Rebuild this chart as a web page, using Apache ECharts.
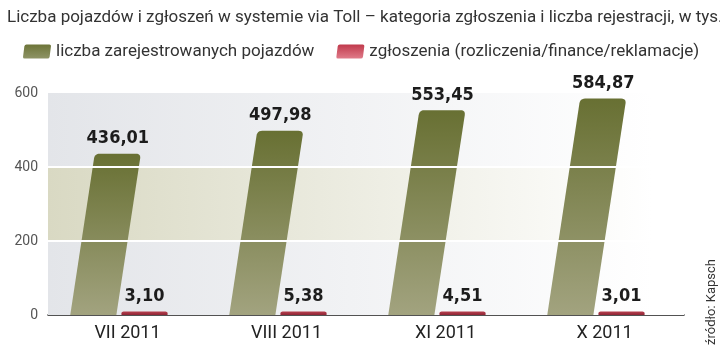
<!DOCTYPE html>
<html>
<head>
<meta charset="utf-8">
<script src="https://cdn.jsdelivr.net/npm/echarts@6/dist/echarts.min.js"></script>
<style>html,body{margin:0;padding:0;background:#fff;}#c{width:720px;height:350px;}</style>
</head>
<body>
<div id="c"></div>
<script>
const categories = ['VII 2011', 'VIII 2011', 'XI 2011', 'X 2011'];
const vehicles = [436.01, 497.98, 553.45, 584.87];
const complaints = [3.10, 5.38, 4.51, 3.01];
const yTicks = [0, 200, 400, 600];
const seriesNames = ['liczba zarejestrowanych pojazdów', 'zgłoszenia (rozliczenia/finance/reklamacje)'];

const greenFill = {type: 'linear', x: 0, y: 0, x2: 0, y2: 1, colorStops: [
  {offset: 0, color: '#687033'}, {offset: 1, color: '#a2a37f'}]};
const redFill = {type: 'linear', x: 0, y: 0, x2: 0, y2: 1, colorStops: [
  {offset: 0, color: '#b8404f'}, {offset: 1, color: '#8e2535'}]};
const legendGreen = {type: 'linear', x: 0, y: 0, x2: 0, y2: 1, colorStops: [
  {offset: 0, color: '#6c7438'}, {offset: 1, color: '#8f9466'}]};
const legendRed = {type: 'linear', x: 0, y: 0, x2: 0, y2: 1, colorStops: [
  {offset: 0, color: '#c0394b'}, {offset: 1, color: '#e07c8a'}]};

function fmt(v) { return v.toFixed(2).replace('.', ','); }

function toward(a, b, d) {
  const dx = b[0] - a[0], dy = b[1] - a[1];
  const L = Math.sqrt(dx * dx + dy * dy) || 1;
  const t = Math.min(d / L, 0.5);
  return [a[0] + dx * t, a[1] + dy * t];
}
function corner(prev, c, next, r) {
  const p1 = toward(c, prev, r), p2 = toward(c, next, r);
  const pts = [];
  const n = 6;
  for (let k = 0; k <= n; k++) {
    const t = k / n, u = 1 - t;
    pts.push([u * u * p1[0] + 2 * u * t * c[0] + t * t * p2[0],
              u * u * p1[1] + 2 * u * t * c[1] + t * t * p2[1]]);
  }
  return pts;
}
function barPoints(xl, yBase, w, yTop, slant, r) {
  const h = yBase - yTop;
  const bl = [xl, yBase], br = [xl + w, yBase];
  const tr = [xl + w + slant * h, yTop], tl = [xl + slant * h, yTop];
  return [bl, br].concat(corner(br, tr, tl, r), corner(tr, tl, bl, r));
}

function makeRender(offsetFrac, slant, radius, fill, minH) {
  return function (params, api) {
    const i = api.value(0), v = api.value(1);
    const base = api.coord([i, 0]);
    const top = api.coord([i, v]);
    const bw = api.size([1, 0])[0];
    const w = bw * 0.29;
    const xl = base[0] + bw * offsetFrac;
    let yTop = top[1];
    if (base[1] - yTop < minH) yTop = base[1] - minH;
    const h = base[1] - yTop;
    const pts = barPoints(xl, base[1], w, yTop, slant, radius);
    return {
      type: 'group',
      children: [
        {type: 'polygon', shape: {points: pts}, style: {fill: fill}},
        {type: 'text', style: {
          text: fmt(v), x: xl + w / 2 + slant * h, y: yTop - 6,
          align: 'center', verticalAlign: 'bottom',
          fontFamily: '"DejaVu Sans Condensed", "DejaVu Sans", sans-serif',
          fontWeight: 'bold', fontSize: 18, fill: '#1c1c1c'}}
      ]
    };
  };
}

const chart = echarts.init(document.getElementById('c'), null, {renderer: 'canvas'});
const grayGrad = {type: 'linear', x: 0, y: 0, x2: 1, y2: 0, colorStops: [
  {offset: 0, color: '#e3e5e9'}, {offset: 0.95, color: '#ffffff'}]};
const beigeGrad = {type: 'linear', x: 0, y: 0, x2: 1, y2: 0, colorStops: [
  {offset: 0, color: '#d9d9c3'}, {offset: 0.95, color: '#ffffff'}]};
const iconPath = 'path://M4,0 L28,0 Q30,0 29.7,2 L28.3,13 Q28,15 26,15 L2,15 Q0,15 0.3,13 L1.7,2 Q2,0 4,0 Z';

chart.setOption({
  animation: false,
  title: {
    text: 'Liczba pojazdów i zgłoszeń w systemie via Toll – kategoria zgłoszenia i liczba rejestracji, w tys.',
    left: 2, top: 4,
    textStyle: {fontFamily: 'Roboto, sans-serif', fontWeight: 'normal', fontSize: 17, color: '#333'}
  },
  legend: {
    left: 18, top: 38, width: 700, itemWidth: 28, itemHeight: 15, itemGap: 22,
    textStyle: {fontFamily: 'Roboto, sans-serif', fontSize: 17, color: '#333'},
    data: [
      {name: seriesNames[0], icon: iconPath, itemStyle: {color: legendGreen}},
      {name: seriesNames[1], icon: iconPath, itemStyle: {color: legendRed}}
    ]
  },
  grid: {left: 48, right: 36, top: 93, bottom: 35},
  xAxis: {
    type: 'category', data: categories,
    axisLine: {lineStyle: {color: '#1a1a1a', width: 1.5}},
    axisTick: {show: false},
    axisLabel: {fontFamily: 'Roboto, sans-serif', fontSize: 18, color: '#222', margin: 9}
  },
  yAxis: {
    type: 'value', min: yTicks[0], max: yTicks[yTicks.length - 1], interval: 200,
    axisLine: {show: false}, axisTick: {show: false}, splitLine: {show: false},
    axisLabel: {fontFamily: 'Roboto, sans-serif', fontSize: 14, color: '#555', margin: 10}
  },
  graphic: [{
    type: 'text', x: 712, y: 302, rotation: Math.PI / 2,
    style: {text: 'źródło: Kapsch', align: 'center', verticalAlign: 'middle',
      fontFamily: 'Roboto, sans-serif', fontSize: 13, fill: '#333'}
  }],
  series: [
    {
      name: 'bg', type: 'line', data: [], z: 1, silent: true,
      markArea: {silent: true, label: {show: false}, data: [
        [{yAxis: 0, itemStyle: {color: grayGrad}}, {yAxis: 200}],
        [{yAxis: 200, itemStyle: {color: beigeGrad}}, {yAxis: 400}],
        [{yAxis: 400, itemStyle: {color: grayGrad}}, {yAxis: 600}]
      ]}
    },
    {
      name: seriesNames[0], type: 'custom', z: 2,
      itemStyle: {color: legendGreen},
      renderItem: makeRender(-0.36, 0.152, 5, greenFill, 0),
      encode: {x: 0, y: 1},
      data: vehicles.map((v, i) => [i, v])
    },
    {
      name: seriesNames[1], type: 'custom', z: 2,
      itemStyle: {color: legendRed},
      renderItem: makeRender(-0.038, 0.0, 3, redFill, 3.5),
      encode: {x: 0, y: 1},
      data: complaints.map((v, i) => [i, v])
    },
    {
      name: 'grid', type: 'line', data: [], z: 5, silent: true,
      markLine: {silent: true, symbol: 'none', label: {show: false},
        lineStyle: {color: '#ffffff', width: 2, type: 'solid'},
        data: [{yAxis: 200}, {yAxis: 400}]}
    }
  ]
});
</script>
</body>
</html>
